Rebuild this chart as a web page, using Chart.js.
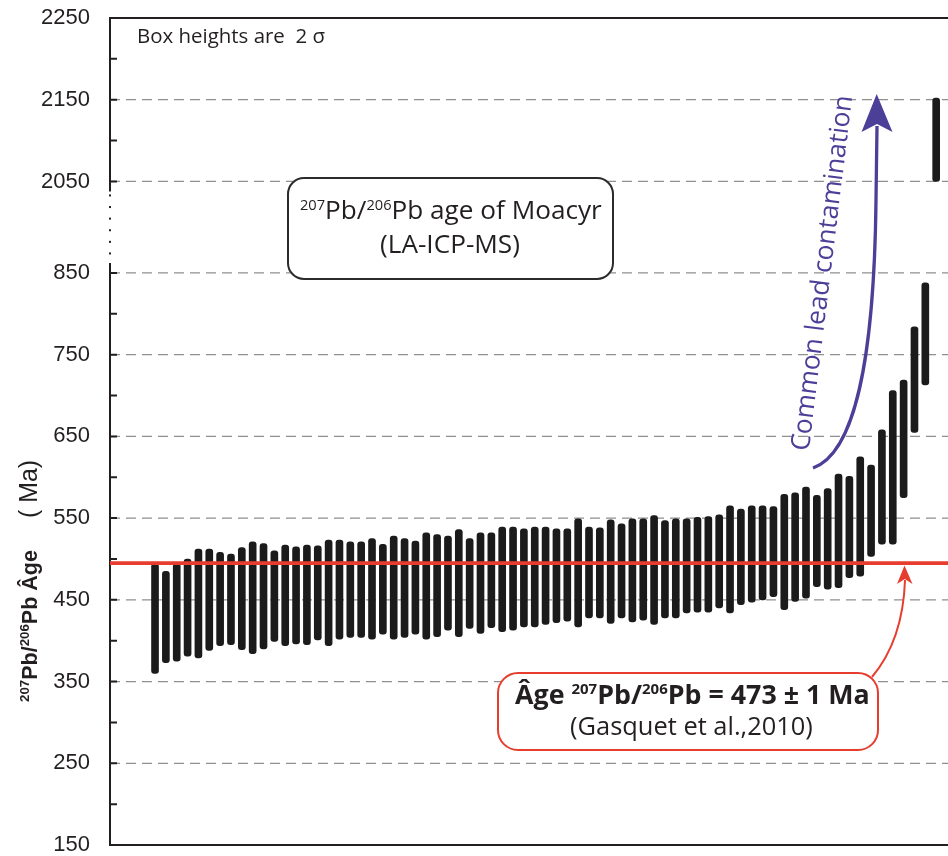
<!DOCTYPE html>
<html>
<head>
<meta charset="utf-8">
<script src="https://cdn.jsdelivr.net/npm/chart.js@4.4.1/dist/chart.umd.min.js"></script>
<style>
html,body{margin:0;padding:0;background:#fff;}
canvas{display:block;}
</style>
</head>
<body>
<canvas id="grafico" width="948" height="856"></canvas>
<script>
// 207Pb/206Pb ages (Ma) of each zircon spot, sorted, lower and upper end of the 2 sigma box
const ageLow = [360,373,375,381,379,388,394,395,389,384,390,399,394,396,395,401,394,402,404,404,402,408,402,404,408,
  402,405,413,405,415,409,416,411,413,417,417,420,422,424,417,428,428,421,428,423,425,420,428,428,
  434,435,435,440,434,444,447,450,454,438,448,452,466,463,465,477,479,503,518,518,575,655,713,2050]
const ageHigh = [494,485,494,500,512,512,508,506,514,521,519,510,517,515,517,516,523,523,521,521,525,518,528,525,522,
  532,530,528,536,525,532,532,539,539,537,539,539,537,537,549,539,538,548,543,549,549,553,547,549,
  549,551,552,554,565,561,565,565,564,579,581,588,578,586,604,601,625,615,658,706,719,784,838,2152]

// y axis labels (Ma) and the small unlabeled marks
const majorTicks = [150,250,350,450,550,650,750,850,2050,2150,2250]
const minorTicks = [200,300,400,500,600,700,800,2100,2200]

// reference line drawn on the figure
const refAge = 495

// broken axis: 850 -> 2050 is squeezed into a short gap
const breakLow = 850, breakHigh = 2050, breakGap = 112
function toAxis(v){ return v <= breakLow ? v : v - (breakHigh - breakLow) + breakGap }
function fromAxis(v){ return v <= breakLow ? v : v + (breakHigh - breakLow) - breakGap }

const spots = ageLow.map((_, i) => i)

const OS = '"Open Sans"'
function fontOf(p, k){ return (p.w || 'normal') + ' ' + (p.s * k) + 'px ' + p.fam }

// draws text pieces (with superscripts) centred on cx, scaled to a given width
function drawFit(ctx, parts, cx, y, target){
  let w = 0
  parts.forEach(p => { ctx.font = fontOf(p, 1); w += ctx.measureText(p.t).width })
  const k = target ? target / w : 1
  let x = cx - w * k / 2
  ctx.textAlign = 'left'
  parts.forEach(p => {
    ctx.font = fontOf(p, k)
    ctx.fillText(p.t, x, y - (p.up || 0) * k)
    x += ctx.measureText(p.t).width
  })
}

const decor = {
  id: 'decor',
  beforeDatasetsDraw(chart){
    const {ctx, chartArea: a, scales: {y}} = chart
    ctx.save()
    // dashed grid
    ctx.strokeStyle = '#8f8f8f'
    ctx.lineWidth = 1.3
    ctx.setLineDash([10, 6])
    majorTicks.forEach(v => {
      if (v === 150 || v === 2250) return
      const py = y.getPixelForValue(toAxis(v))
      ctx.beginPath(); ctx.moveTo(a.left, py); ctx.lineTo(a.right, py); ctx.stroke()
    })
    ctx.setLineDash([])
    // frame with the break
    ctx.strokeStyle = '#231f20'
    ctx.lineWidth = 2
    const yb1 = y.getPixelForValue(toAxis(breakHigh)) + 10
    const yb2 = y.getPixelForValue(toAxis(breakLow)) - 10
    ctx.beginPath()
    ctx.moveTo(a.right, a.top); ctx.lineTo(a.left, a.top); ctx.lineTo(a.left, yb1)
    ctx.moveTo(a.left, yb2); ctx.lineTo(a.left, a.bottom); ctx.lineTo(a.right, a.bottom)
    ctx.stroke()
    ctx.fillStyle = '#231f20'
    for (let py = yb1 + 3; py < yb2 - 3; py += 11.6) ctx.fillRect(a.left - 1, py, 2, 2)
    // tick marks
    ctx.beginPath()
    majorTicks.concat(minorTicks).forEach(v => {
      const py = y.getPixelForValue(toAxis(v))
      ctx.moveTo(a.left, py); ctx.lineTo(a.left + 7, py)
    })
    ctx.stroke()
    ctx.restore()
  },
  afterDatasetsDraw(chart){
    const {ctx, chartArea: a, scales: {y}} = chart
    ctx.save()
    // red reference line
    const ry = y.getPixelForValue(toAxis(refAge))
    ctx.strokeStyle = '#e63d2f'
    ctx.lineWidth = 3.7
    ctx.beginPath(); ctx.moveTo(a.left, ry); ctx.lineTo(a.right, ry); ctx.stroke()

    ctx.textBaseline = 'alphabetic'
    ctx.fillStyle = '#231f20'
    drawFit(ctx, [{t:'Box heights are  2 \u03c3', s:20, fam:OS}], 137 + 94, 43, 188)

    // Moacyr box
    ctx.fillStyle = '#fff'
    ctx.strokeStyle = '#2b2b2b'
    ctx.lineWidth = 2
    ctx.beginPath(); ctx.roundRect(288, 178, 325, 101, 16); ctx.fill(); ctx.stroke()
    ctx.fillStyle = '#231f20'
    drawFit(ctx, [{t:'207', s:14, fam:OS, up:9}, {t:'Pb/', s:25, fam:OS}, {t:'206', s:14, fam:OS, up:9}, {t:'Pb age of Moacyr', s:25, fam:OS}], 451, 219, 302)
    drawFit(ctx, [{t:'(LA-ICP-MS)', s:25, fam:OS}], 450, 253, 140)

    // red box + arrow
    ctx.fillStyle = '#fff'
    ctx.strokeStyle = '#e63d2f'
    ctx.beginPath(); ctx.roundRect(498, 673, 380, 77, 20); ctx.fill(); ctx.stroke()
    ctx.fillStyle = '#231f20'
    drawFit(ctx, [{t:'\u00c2ge ', s:25, w:'bold', fam:OS}, {t:'207', s:14, w:'bold', fam:OS, up:9}, {t:'Pb/', s:25, w:'bold', fam:OS},
      {t:'206', s:14, w:'bold', fam:OS, up:9}, {t:'Pb = 473 \u00b1 1 Ma', s:25, w:'bold', fam:OS}], 692.5, 704, 355)
    drawFit(ctx, [{t:'(Gasquet et al.,2010)', s:25, fam:OS}], 691.5, 735, 243)
    ctx.strokeStyle = '#e63d2f'
    ctx.lineWidth = 2
    ctx.beginPath(); ctx.moveTo(872, 677); ctx.quadraticCurveTo(903, 640, 905, 580); ctx.stroke()
    ctx.fillStyle = '#e63d2f'
    ctx.beginPath(); ctx.moveTo(904.5, 565.5); ctx.lineTo(912.5, 584); ctx.lineTo(904.8, 579); ctx.lineTo(897, 584); ctx.closePath(); ctx.fill()

    // blue arrow + label
    const blue = '#4b3f98'
    ctx.strokeStyle = blue
    ctx.lineWidth = 3.3
    ctx.beginPath(); ctx.moveTo(813, 468); ctx.bezierCurveTo(850, 455, 874, 380, 876, 200); ctx.lineTo(877, 126); ctx.stroke()
    ctx.fillStyle = blue
    ctx.beginPath(); ctx.moveTo(876.7, 94); ctx.lineTo(892.5, 132); ctx.lineTo(877, 124); ctx.lineTo(861.5, 132); ctx.closePath(); ctx.fill()
    ctx.save()
    ctx.translate(823, 273)
    ctx.rotate(-83 * Math.PI / 180)
    ctx.textBaseline = 'middle'
    drawFit(ctx, [{t:'Common lead contamination', s:27, fam:OS}], 0, 0, 358)
    ctx.restore()

    // y axis title
    ctx.save()
    ctx.translate(28, 702)
    ctx.rotate(-Math.PI / 2)
    ctx.fillStyle = '#231f20'
    ctx.textBaseline = 'alphabetic'
    const LS = '"Liberation Sans"'
    drawFit(ctx, [{t:'207', s:13, w:'bold', fam:LS, up:8}, {t:'Pb/', s:21, w:'bold', fam:LS}, {t:'206', s:13, w:'bold', fam:LS, up:8},
      {t:'Pb \u00c2ge', s:21, w:'bold', fam:LS}], 76, 9, 152)
    drawFit(ctx, [{t:'( Ma)', s:24, fam:LS}], 213, 9, 58)
    ctx.restore()
    ctx.restore()
  }
}

new Chart(document.getElementById('grafico'), {
  type: 'bar',
  data: {
    datasets: [{
      data: spots.map(i => ({x: i, y: [toAxis(ageLow[i]), toAxis(ageHigh[i])]})),
      backgroundColor: '#1b1b1b',
      barThickness: 7,
      borderRadius: 3,
      borderSkipped: false
    }]
  },
  options: {
    responsive: false,
    animation: false,
    layout: {padding: {top: 18, right: 0, bottom: 11, left: 0}},
    plugins: {legend: {display: false}, tooltip: {enabled: false}},
    scales: {
      x: {type: 'linear', min: -4.15, max: 73.09, offset: false, display: false},
      y: {
        min: 150,
        max: toAxis(2250),
        afterBuildTicks: s => { s.ticks = majorTicks.map(v => ({value: toAxis(v)})) },
        afterFit: s => { s.width = 110; s.paddingTop = 0; s.paddingBottom = 0 },
        grid: {display: false, drawTicks: false},
        border: {display: false},
        ticks: {
          padding: 20,
          color: '#231f20',
          font: {family: '"Liberation Sans"', size: 22},
          callback: v => fromAxis(v)
        }
      }
    }
  },
  plugins: [decor]
})
</script>
</body>
</html>
